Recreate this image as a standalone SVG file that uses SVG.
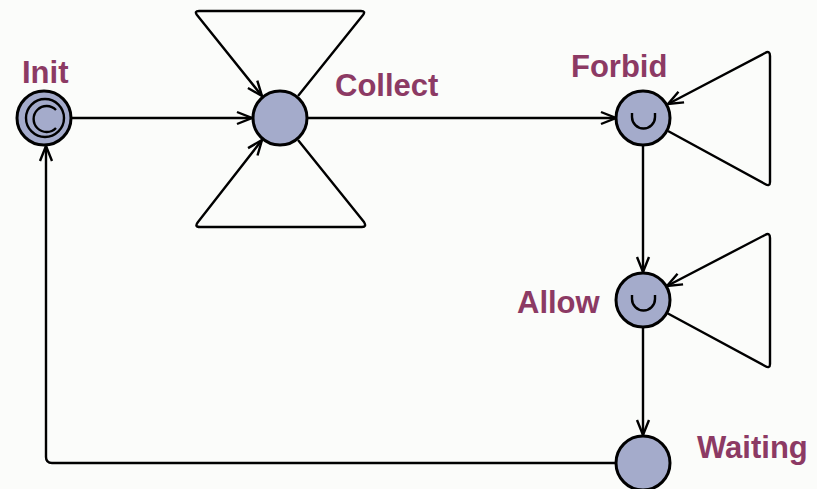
<svg xmlns="http://www.w3.org/2000/svg" width="817" height="489" viewBox="0 0 817 489">
<style>
.node{fill:#a4abcb;stroke:#000;stroke-width:3}
.sym{fill:none;stroke:#000;stroke-width:2.4}
.lbl{font-family:"Liberation Sans",Arial,sans-serif;font-weight:bold;font-size:31px;fill:#8c3a64}
.edge{fill:none;stroke:#000;stroke-width:2.4;stroke-linejoin:round}
</style>
<defs>
<marker id="arr" markerUnits="userSpaceOnUse" viewBox="-17 -8 19 16" refX="0" refY="0" markerWidth="19" markerHeight="16" orient="auto">
<path d="M-15,-6 L0,0 L-15,6" fill="none" stroke="#000" stroke-width="2.4" stroke-linejoin="miter"/>
</marker>
</defs>
<rect width="817" height="489" fill="#fbfcfa"/>
<g id="connectors">
<path class="edge" d="M72,118 L252,118" marker-end="url(#arr)"/>
<path class="edge" d="M298,96 L363,15 Q366,11 361,11 L199,11 Q194,11 197,15 L262,96" marker-end="url(#arr)"/>
<path class="edge" d="M298,140 L364,222 Q367,227 362,227 L200,227 Q194,227 198,222 L262,140" marker-end="url(#arr)"/>
<path class="edge" d="M308,118 L616,118" marker-end="url(#arr)"/>
<path class="edge" d="M668,131 L765,184 Q770,187 770,182 L770,56 Q770,50 765,53 L668,104" marker-end="url(#arr)"/>
<path class="edge" d="M643,146 L643,272" marker-end="url(#arr)"/>
<path class="edge" d="M667,313 L765,366 Q770,369 770,364 L770,238 Q770,232 765,235 L667,286" marker-end="url(#arr)"/>
<path class="edge" d="M643,328 L643,435" marker-end="url(#arr)"/>
<path class="edge" d="M616,463 L52,463 Q46,463 46,457 L46,146" marker-end="url(#arr)"/>
</g>
<g id="Init">
<circle class="node" cx="44" cy="118" r="27"/>
<circle class="sym" cx="45" cy="118" r="19"/>
<path class="sym" d="M56,110 A13,13 0 1 0 56,128"/>
<text class="lbl" x="22" y="83">Init</text>
</g>
<g id="Collect">
<circle class="node" cx="280" cy="118" r="27"/>
<text class="lbl" x="335" y="96">Collect</text>
</g>
<g id="Forbid">
<circle class="node" cx="643" cy="118" r="27"/>
<path class="sym" d="M632,113 v4 a11.5,11.5 0 0 0 23,0 v-4"/>
<text class="lbl" x="571" y="77">Forbid</text>
</g>
<g id="Allow">
<circle class="node" cx="643" cy="300" r="27"/>
<path class="sym" d="M632,295 v4 a11.5,11.5 0 0 0 23,0 v-4"/>
<text class="lbl" x="517" y="313">Allow</text>
</g>
<g id="Waiting">
<circle class="node" cx="643" cy="463" r="27"/>
<text class="lbl" x="697" y="458">Waiting</text>
</g>
</svg>
